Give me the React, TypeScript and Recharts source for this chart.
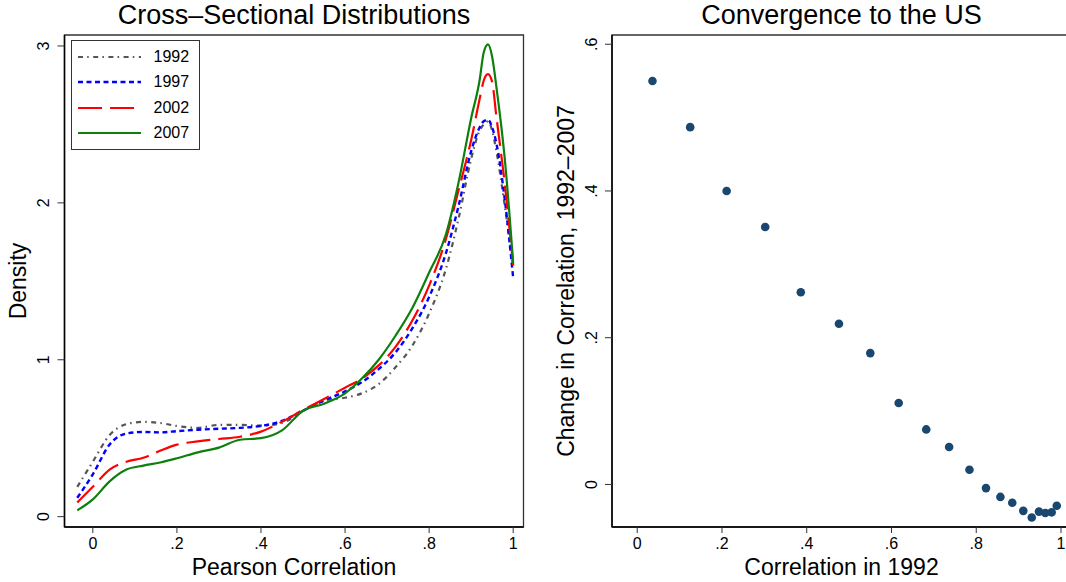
import React from 'react';
import {
  LineChart, Line, XAxis, YAxis, ReferenceArea, Legend,
  ScatterChart, Scatter, Label,
} from 'recharts';

const FONT = '"Liberation Sans", Arial, Helvetica, sans-serif';

// ---- Left panel: kernel densities of Pearson correlation ----
const corrGrid = [-0.037, 0, 0.04, 0.08, 0.12, 0.16, 0.2, 0.25, 0.3, 0.35, 0.4, 0.45, 0.5, 0.55, 0.6, 0.64, 0.68, 0.72, 0.76, 0.8, 0.84, 0.87, 0.9, 0.92, 0.93, 0.94, 0.95, 0.96, 0.98, 1.0];
const density1992 = [0.19, 0.35, 0.52, 0.59, 0.604, 0.597, 0.578, 0.566, 0.585, 0.585, 0.58, 0.597, 0.675, 0.739, 0.758, 0.786, 0.845, 0.952, 1.09, 1.295, 1.58, 1.9, 2.28, 2.46, 2.5, 2.52, 2.46, 2.33, 1.98, 1.59];
const density1997 = [0.12, 0.27, 0.46, 0.53, 0.54, 0.537, 0.545, 0.554, 0.56, 0.566, 0.578, 0.61, 0.675, 0.74, 0.798, 0.857, 0.94, 1.047, 1.2, 1.4, 1.68, 1.98, 2.33, 2.48, 2.52, 2.53, 2.48, 2.38, 2.02, 1.52];
const density2002 = [0.09, 0.19, 0.3, 0.35, 0.375, 0.42, 0.459, 0.48, 0.495, 0.509, 0.542, 0.605, 0.68, 0.75, 0.822, 0.88, 0.964, 1.082, 1.25, 1.473, 1.77, 2.08, 2.4, 2.66, 2.78, 2.82, 2.77, 2.55, 2.12, 1.6];
const density2007 = [0.04, 0.11, 0.225, 0.3, 0.325, 0.345, 0.372, 0.41, 0.44, 0.49, 0.5, 0.55, 0.675, 0.72, 0.786, 0.88, 1.0, 1.153, 1.33, 1.556, 1.8, 2.13, 2.54, 2.78, 2.96, 3.01, 2.93, 2.74, 2.28, 1.615];

const corrTicks = [0, 0.2, 0.4, 0.6, 0.8, 1];
const densityTicks = [0, 1, 2, 3];

// ---- Right panel: convergence scatter ----
const corr1992 = [0.036, 0.125, 0.211, 0.302, 0.386, 0.476, 0.55, 0.617, 0.682, 0.736, 0.784, 0.823, 0.857, 0.885, 0.911, 0.931, 0.948, 0.963, 0.978, 0.99];
const change9207 = [0.55, 0.487, 0.4, 0.351, 0.262, 0.219, 0.179, 0.111, 0.075, 0.051, 0.02, -0.005, -0.017, -0.025, -0.036, -0.045, -0.037, -0.039, -0.038, -0.029];
const changeTicks = [0, 0.2, 0.4, 0.6];

const seriesDefs = [
  { key: 'y1992', name: '1992', values: density1992, color: '#555555', dash: '5 4.2 1.5 4.5', width: 2.2 },
  { key: 'y1997', name: '1997', values: density1997, color: '#0000ff', dash: '5 3.5', width: 2.4 },
  { key: 'y2002', name: '2002', values: density2002, color: '#ff0000', dash: '24 8', width: 2.2 },
  { key: 'y2007', name: '2007', values: density2007, color: '#0c800c', dash: undefined as string | undefined, width: 2.2 },
];

const densityData = corrGrid.map((x, i) => {
  const row: Record<string, number> = { x };
  seriesDefs.forEach((s) => { row[s.key] = s.values[i]; });
  return row;
});
const scatterData = corr1992.map((x, i) => ({ x, y: change9207[i] }));

const fmt = (v: number) => {
  if (v === 0) return '0';
  if (Number.isInteger(v)) return String(v);
  return String(+v.toFixed(2)).replace(/^0\./, '.').replace(/^-0\./, '-.');
};

const RotTick = (props: any) => {
  const { x, y, payload } = props;
  const cx = x - 12;
  return (
    <text x={cx} y={y} dy="0.355em" textAnchor="middle" transform={`rotate(-90, ${cx}, ${y})`}
      fontSize={16} fontFamily={FONT} fill="#000">{fmt(payload.value)}</text>
  );
};

const LegendBox = (props: any) => {
  const payload = props.payload || [];
  return (
    <div style={{ border: '1.5px solid #333', background: '#fff', boxSizing: 'border-box', width: 129, padding: '3px 0', fontFamily: FONT, fontSize: 16, color: '#000' }}>
      {payload.map((entry: any) => {
        const def = seriesDefs.find((s) => s.name === entry.value)!;
        return (
          <div key={entry.value} style={{ height: 25.5, display: 'flex', alignItems: 'center' }}>
            <svg width={76} height={10} style={{ display: 'block' }}>
              <line x1={6} x2={69} y1={5} y2={5} stroke={entry.color} strokeWidth={def.width} strokeDasharray={def.dash} />
            </svg>
            <span style={{ marginLeft: 6, lineHeight: '18px' }}>{entry.value}</span>
          </div>
        );
      })}
    </div>
  );
};

const leftX: [number, number] = [-0.0674, 1.0245];
const leftY: [number, number] = [-0.066, 3.07];
const rightX: [number, number] = [-0.0595, 1.0236];
const rightY: [number, number] = [-0.058, 0.6126];

const titleStyle: React.CSSProperties = {
  position: 'absolute', top: 0, fontFamily: FONT, fontSize: 27, lineHeight: '30px',
  textAlign: 'center', color: '#000', whiteSpace: 'nowrap',
};

export default function App() {
  return (
    <div style={{ position: 'absolute', left: 0, top: 0, width: 1066, height: 582, overflow: 'hidden', background: '#fff' }}>
      <div style={{ ...titleStyle, left: 64.5, width: 459 }}>Cross–Sectional Distributions</div>
      <div style={{ ...titleStyle, left: 612, width: 459 }}>Convergence to the US</div>

      <div style={{ position: 'absolute', left: 0, top: 0 }}>
        <LineChart width={540} height={582} data={densityData} margin={{ top: 35, right: 16.5, bottom: 0, left: 0 }}>
          <XAxis dataKey="x" type="number" domain={leftX} ticks={corrTicks} tickFormatter={fmt}
            allowDataOverflow height={55} tickSize={6} tickMargin={5}
            axisLine={{ stroke: '#000', strokeWidth: 1.5 }} tickLine={{ stroke: '#333' }}
            tick={{ fontSize: 16, fontFamily: FONT, fill: '#000' }}>
            <Label value="Pearson Correlation" position="insideBottom" offset={7} fontSize={23} fontFamily={FONT} fill="#000" />
          </XAxis>
          <YAxis type="number" domain={leftY} ticks={densityTicks} allowDataOverflow width={64.5}
            tickSize={7} axisLine={{ stroke: '#000', strokeWidth: 1.5 }} tickLine={{ stroke: '#333' }}
            tick={<RotTick />}>
            <Label value="Density" angle={-90} position="insideLeft" offset={18} fontSize={23} fontFamily={FONT} fill="#000" style={{ textAnchor: 'middle' }} />
          </YAxis>
          <ReferenceArea x1={leftX[0]} x2={leftX[1]} y1={leftY[0]} y2={leftY[1]} fill="none" fillOpacity={0} stroke="#333" strokeWidth={1.3} ifOverflow="visible" />
          {seriesDefs.map((s) => (
            <Line key={s.key} type="monotone" dataKey={s.key} name={s.name} stroke={s.color}
              strokeWidth={s.width} strokeDasharray={s.dash} dot={false} activeDot={false} isAnimationActive={false} />
          ))}
          <Legend layout="vertical" align="center" verticalAlign="middle" width={129}
            wrapperStyle={{ left: 70.5, top: 40, width: 129 }} content={<LegendBox />} />
        </LineChart>
      </div>

      <div style={{ position: 'absolute', left: 540, top: 0 }}>
        <ScatterChart width={533} height={582} margin={{ top: 35, right: 2, bottom: 0, left: 0 }}>
          <XAxis dataKey="x" type="number" domain={rightX} ticks={corrTicks} tickFormatter={fmt}
            allowDataOverflow height={55} tickSize={6} tickMargin={5}
            axisLine={{ stroke: '#000', strokeWidth: 1.5 }} tickLine={{ stroke: '#333' }}
            tick={{ fontSize: 16, fontFamily: FONT, fill: '#000' }}>
            <Label value="Correlation in 1992" position="insideBottom" offset={7} fontSize={23} fontFamily={FONT} fill="#000" />
          </XAxis>
          <YAxis dataKey="y" type="number" domain={rightY} ticks={changeTicks} allowDataOverflow width={72}
            tickSize={7} axisLine={{ stroke: '#000', strokeWidth: 1.5 }} tickLine={{ stroke: '#333' }}
            tick={<RotTick />}>
            <Label value="Change in Correlation, 1992–2007" angle={-90} position="insideLeft" offset={25.5} fontSize={23} fontFamily={FONT} fill="#000" style={{ textAnchor: 'middle' }} />
          </YAxis>
          <ReferenceArea x1={rightX[0]} x2={rightX[1]} y1={rightY[0]} y2={rightY[1]} fill="none" fillOpacity={0} stroke="#333" strokeWidth={1.3} ifOverflow="visible" />
          <Scatter data={scatterData} fill="#1a476f" isAnimationActive={false}
            shape={(p: any) => <circle cx={p.cx} cy={p.cy} r={4.3} fill="#1a476f" />} />
        </ScatterChart>
      </div>
    </div>
  );
}
